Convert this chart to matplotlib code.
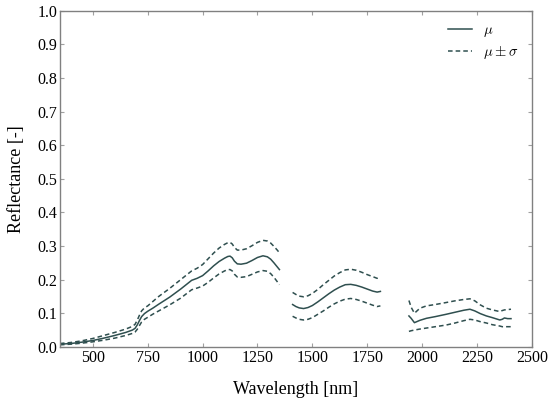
import matplotlib
matplotlib.use('Agg')
import matplotlib.pyplot as plt

# spectral data (three bands separated by water absorption gaps)
w1 = [350, 400, 450, 500, 550, 600, 650, 680, 692, 702, 712, 722, 735, 750, 775, 800, 850, 900,
      950, 975, 1000, 1025, 1050, 1075, 1100, 1115, 1125, 1135, 1145, 1158, 1175, 1200, 1225, 1250,
      1275, 1295, 1310, 1325, 1340, 1350]
mean1 = [0.008, 0.010, 0.014, 0.019, 0.026, 0.034, 0.043, 0.050, 0.055, 0.065, 0.078, 0.090, 0.099,
         0.106, 0.116, 0.127, 0.148, 0.172, 0.198, 0.204, 0.212, 0.226, 0.241, 0.254, 0.264, 0.269,
         0.270, 0.265, 0.255, 0.247, 0.246, 0.249, 0.257, 0.266, 0.271, 0.268, 0.261, 0.250, 0.238, 0.230]
upper1 = [0.010, 0.013, 0.018, 0.025, 0.034, 0.043, 0.053, 0.061, 0.067, 0.079, 0.094, 0.107, 0.116,
          0.122, 0.136, 0.150, 0.174, 0.200, 0.226, 0.234, 0.245, 0.262, 0.279, 0.294, 0.305, 0.310,
          0.311, 0.306, 0.296, 0.288, 0.288, 0.292, 0.301, 0.311, 0.317, 0.315, 0.309, 0.299, 0.288, 0.280]
lower1 = [0.006, 0.008, 0.011, 0.015, 0.020, 0.026, 0.034, 0.040, 0.044, 0.052, 0.063, 0.074, 0.082,
          0.088, 0.098, 0.107, 0.125, 0.145, 0.170, 0.175, 0.181, 0.192, 0.205, 0.217, 0.226, 0.230,
          0.230, 0.226, 0.216, 0.208, 0.207, 0.209, 0.216, 0.223, 0.227, 0.225, 0.218, 0.207, 0.194, 0.185]

w2 = [1410, 1425, 1440, 1460, 1480, 1500, 1525, 1550, 1575, 1600, 1625, 1650, 1675, 1700, 1725,
      1750, 1775, 1795, 1810]
mean2 = [0.126, 0.120, 0.116, 0.114, 0.117, 0.123, 0.134, 0.146, 0.158, 0.169, 0.178, 0.185, 0.186,
         0.183, 0.178, 0.172, 0.166, 0.163, 0.165]
upper2 = [0.162, 0.156, 0.151, 0.149, 0.152, 0.159, 0.171, 0.185, 0.198, 0.211, 0.221, 0.229, 0.231,
          0.228, 0.222, 0.215, 0.209, 0.204, 0.206]
lower2 = [0.091, 0.086, 0.082, 0.080, 0.082, 0.087, 0.097, 0.107, 0.118, 0.128, 0.136, 0.142, 0.144,
          0.141, 0.136, 0.130, 0.124, 0.120, 0.122]

w3 = [1940, 1950, 1965, 1990, 2020, 2060, 2110, 2150, 2190, 2218, 2240, 2265, 2293, 2320, 2354,
      2365, 2375, 2390, 2405]
mean3 = [0.092, 0.085, 0.072, 0.079, 0.085, 0.090, 0.097, 0.103, 0.109, 0.112, 0.107, 0.099, 0.092,
         0.087, 0.080, 0.082, 0.086, 0.084, 0.084]
upper3 = [0.138, 0.118, 0.100, 0.115, 0.122, 0.126, 0.132, 0.137, 0.141, 0.143, 0.137, 0.125, 0.115,
          0.110, 0.105, 0.108, 0.110, 0.111, 0.112]
lower3 = [0.046, 0.048, 0.050, 0.053, 0.056, 0.060, 0.065, 0.071, 0.078, 0.082, 0.080, 0.075, 0.071,
          0.066, 0.062, 0.060, 0.060, 0.060, 0.060]

xticks = [500, 750, 1000, 1250, 1500, 1750, 2000, 2250, 2500]
yticks = [0.0, 0.1, 0.2, 0.3, 0.4, 0.5, 0.6, 0.7, 0.8, 0.9, 1.0]

col = '#2f4f4f'
plt.rcParams['font.family'] = ['Liberation Serif', 'DejaVu Serif']
plt.rcParams['mathtext.fontset'] = 'cm'

fig = plt.figure(figsize=(5.5, 4.01), dpi=100)
ax = fig.add_axes([0.109, 0.135, 0.858, 0.838])

segs = [(w1, mean1, upper1, lower1), (w2, mean2, upper2, lower2), (w3, mean3, upper3, lower3)]
for i, (w, m, u, l) in enumerate(segs):
    ax.plot(w, m, color=col, lw=1.1, label=r'$\mu$' if i == 0 else None)
    ax.plot(w, u, color=col, lw=1.1, ls='--', dashes=(3, 2), label=r'$\mu \pm \sigma$' if i == 0 else None)
    ax.plot(w, l, color=col, lw=1.1, ls='--', dashes=(3, 2))

ax.set_xlim(350, 2500)
ax.set_ylim(0, 1.0)
ax.set_xticks(xticks)
ax.set_yticks(yticks)
ax.set_yticklabels(['%.1f' % v for v in yticks])
ax.tick_params(direction='in', length=3, color='#a0a0a0', labelsize=11.5,
               top=True, right=True, pad=2)
for s in ax.spines.values():
    s.set_color('#808080')
    s.set_linewidth(1.0)

ax.set_xlabel('Wavelength [nm]', fontsize=13, labelpad=11)
ax.set_ylabel('Reflectance [-]', fontsize=13, labelpad=9)
ax.legend(loc='upper right', frameon=False, fontsize=10.5, handlelength=1.6,
          borderaxespad=0.5, labelspacing=0.35)

fig.savefig('out.png', dpi=100)
